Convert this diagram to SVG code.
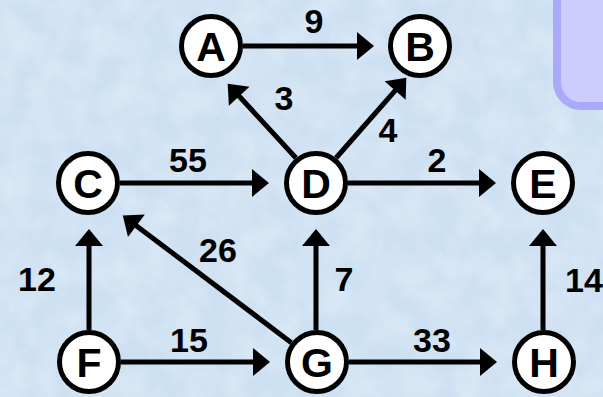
<svg xmlns="http://www.w3.org/2000/svg" width="603" height="397" viewBox="0 0 603 397">
<style>
.node circle{fill:#ffffff;stroke:#000000;stroke-width:5}
.node text{font-family:"Liberation Sans",Arial,sans-serif;font-weight:bold;font-size:41px;text-anchor:middle;fill:#000000}
.edge{stroke:#000000;stroke-width:5;fill:none;marker-end:url(#ah)}
.lbl{font-family:"Liberation Sans",Arial,sans-serif;font-weight:bold;font-size:34px;text-anchor:middle;fill:#000000}
</style>
<defs>
<marker id="ah" markerUnits="userSpaceOnUse" markerWidth="20" markerHeight="30" refX="1" refY="14" orient="auto" overflow="visible">
<path d="M0,0 L17,14 L0,28 z" fill="#000000"/>
</marker>
<filter id="tex" x="0" y="0" width="100%" height="100%">
<feTurbulence type="fractalNoise" baseFrequency="0.035" numOctaves="4" seed="3"/>
<feColorMatrix type="matrix" values="0 0 0 0 1  0 0 0 0 1  0 0 0 0 1  0.9 0 0 0 -0.3"/>
</filter>
</defs>
<rect x="0" y="0" width="603" height="397" fill="#cde0f2"/>
<rect x="0" y="0" width="603" height="397" filter="url(#tex)" opacity="0.6"/>
<rect x="557" y="-40" width="90" height="146" rx="24" fill="#ccccff" stroke="#aaaaf8" stroke-width="8"/>
<g id="connectors">
<line class="edge" x1="243" y1="46" x2="358" y2="46"/>
<line class="edge" x1="120" y1="183" x2="253" y2="183"/>
<line class="edge" x1="348" y1="183" x2="480" y2="183"/>
<line class="edge" x1="89" y1="330" x2="89" y2="245"/>
<line class="edge" x1="316" y1="330" x2="316" y2="245"/>
<line class="edge" x1="543" y1="330" x2="543" y2="245"/>
<line class="edge" x1="121" y1="362" x2="254" y2="362"/>
<line class="edge" x1="349" y1="362" x2="481" y2="362"/>
<line class="edge" x1="296" y1="158" x2="238.5" y2="95.5"/>
<line class="edge" x1="336" y1="158" x2="395.8" y2="89.8"/>
<line class="edge" x1="291.4" y1="342.7" x2="135.6" y2="225.2"/>
<text class="lbl" x="314" y="33">9</text>
<text class="lbl" x="284" y="110">3</text>
<text class="lbl" x="388" y="142">4</text>
<text class="lbl" x="188" y="172">55</text>
<text class="lbl" x="437" y="172">2</text>
<text class="lbl" x="218" y="262">26</text>
<text class="lbl" x="344" y="291">7</text>
<text class="lbl" x="37" y="291">12</text>
<text class="lbl" x="565" y="292" style="text-anchor:start">14</text>
<text class="lbl" x="189" y="352">15</text>
<text class="lbl" x="432" y="352">33</text>
</g>
<g id="node-A" class="node"><circle cx="211" cy="46" r="29.5"/><text x="211" y="60.5">A</text></g>
<g id="node-B" class="node"><circle cx="420" cy="46" r="29.5"/><text x="420" y="60.5">B</text></g>
<g id="node-C" class="node"><circle cx="88" cy="183" r="29.5"/><text x="88" y="197.5">C</text></g>
<g id="node-D" class="node"><circle cx="316" cy="183" r="29.5"/><text x="316" y="197.5">D</text></g>
<g id="node-E" class="node"><circle cx="543" cy="183" r="29.5"/><text x="543" y="197.5">E</text></g>
<g id="node-F" class="node"><circle cx="89" cy="362" r="29.5"/><text x="89" y="376.5">F</text></g>
<g id="node-G" class="node"><circle cx="317" cy="362" r="29.5"/><text x="317" y="376.5">G</text></g>
<g id="node-H" class="node"><circle cx="544" cy="362" r="29.5"/><text x="544" y="376.5">H</text></g>
</svg>
